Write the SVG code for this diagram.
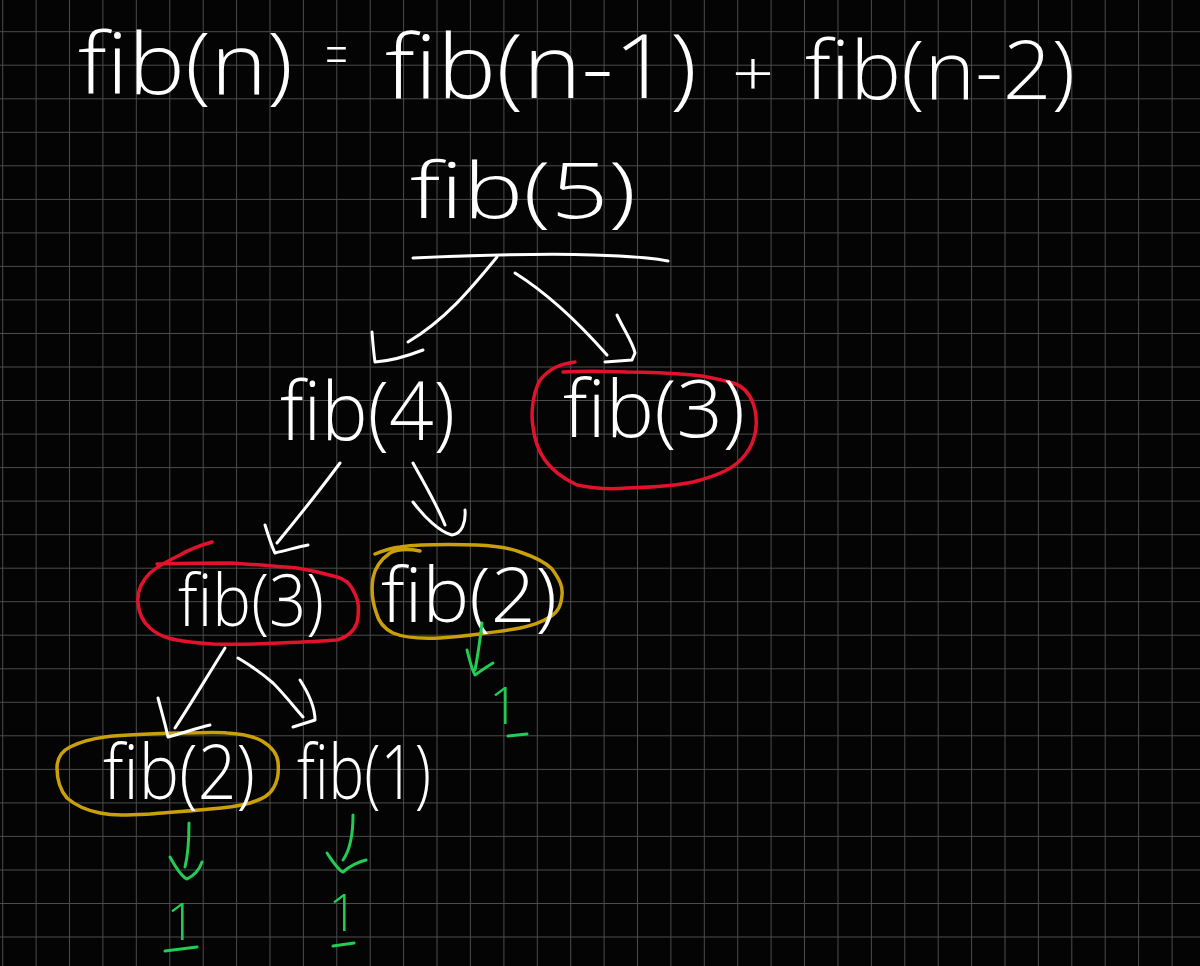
<svg xmlns="http://www.w3.org/2000/svg" width="1200" height="966" viewBox="0 0 1200 966">
<style>
.bg{fill:#040404}
.grid{stroke:#4c4c4c;stroke-width:1;fill:none}
.t{fill:#ffffff;font-family:"Open Sans","Liberation Sans",sans-serif;font-weight:300}
.g{fill:#22cc55;font-family:"Open Sans","Liberation Sans",sans-serif;font-weight:300}
.w{stroke:#ffffff;stroke-width:3;fill:none;stroke-linecap:round;stroke-linejoin:round}
.gr{stroke:#22cc55;stroke-width:3;fill:none;stroke-linecap:round;stroke-linejoin:round}
.red{stroke:#e3122c;stroke-width:3.5;fill:none;stroke-linecap:round;stroke-linejoin:round}
.yel{stroke:#c9a00a;stroke-width:3.5;fill:none;stroke-linecap:round;stroke-linejoin:round}
</style>
<rect class="bg" x="0" y="0" width="1200" height="966"/>
<path class="grid" d="M2.7,0V966M36.1,0V966M69.5,0V966M102.9,0V966M136.3,0V966M169.8,0V966M203.2,0V966M236.6,0V966M270,0V966M303.4,0V966M336.8,0V966M370.2,0V966M403.6,0V966M437,0V966M470.4,0V966M503.9,0V966M537.3,0V966M570.7,0V966M604.1,0V966M637.5,0V966M670.9,0V966M704.3,0V966M737.7,0V966M771.1,0V966M804.5,0V966M838,0V966M871.4,0V966M904.8,0V966M938.2,0V966M971.6,0V966M1005,0V966M1038.4,0V966M1071.8,0V966M1105.2,0V966M1138.6,0V966M1172.1,0V966M0,31.7H1200M0,65.2H1200M0,98.8H1200M0,132.3H1200M0,165.8H1200M0,199.4H1200M0,232.9H1200M0,266.4H1200M0,299.9H1200M0,333.5H1200M0,367H1200M0,400.5H1200M0,434.1H1200M0,467.6H1200M0,501.1H1200M0,534.7H1200M0,568.2H1200M0,601.7H1200M0,635.2H1200M0,668.8H1200M0,702.3H1200M0,735.8H1200M0,769.4H1200M0,802.9H1200M0,836.4H1200M0,870H1200M0,903.5H1200M0,937H1200"/>

<g id="equation">
<text class="t" x="78" y="94" font-size="84" textLength="215" lengthAdjust="spacingAndGlyphs">fib(n)</text>
<text class="t" x="325" y="76" font-size="60" textLength="23" lengthAdjust="spacingAndGlyphs">=</text>
<text class="t" x="385" y="98" font-size="88" textLength="312" lengthAdjust="spacingAndGlyphs">fib(n-1)</text>
<text class="t" x="732" y="96" font-size="62" textLength="42" lengthAdjust="spacingAndGlyphs">+</text>
<text class="t" x="805" y="99" font-size="82" textLength="270" lengthAdjust="spacingAndGlyphs">fib(n-2)</text>
</g>

<g id="node-fib5">
<text class="t" x="410" y="218" font-size="78" textLength="226" lengthAdjust="spacingAndGlyphs">fib(5)</text>
<path class="w" d="M413,258 C460,256 540,253 593,255 C625,256 650,257 668,261"/>
</g>

<g id="node-fib4">
<text class="t" x="280" y="440" font-size="82" textLength="175" lengthAdjust="spacingAndGlyphs">fib(4)</text>
</g>

<g id="node-fib3-right">
<path class="red" d="M575,362 C560,364 550,368 540,380 C532,395 531,415 533,427 C536,450 545,470 577,485 C600,490 615,489 627,488 C660,487 680,485 693,482 C720,475 735,468 745,455 C757,440 759,420 753,403 C748,390 740,385 733,383 C715,378 705,376 693,375 C670,373 645,372 627,372 C600,371 580,371 563,372"/>
<text class="t" x="563" y="437" font-size="80" textLength="182" lengthAdjust="spacingAndGlyphs">fib(3)</text>
</g>

<g id="node-fib3-left">
<path class="red" d="M212,542 C198,546 190,549 180,555 C165,562 157,567 150,573 C140,583 137,593 138,603 C139,615 143,622 150,628 C160,637 170,641 213,644 C240,645 260,644 280,643 C305,642 325,641 337,640 C350,636 357,628 358,617 C359,605 358,600 355,594 C350,583 345,579 337,577 C320,572 310,570 297,568 C270,566 250,564 230,563 C205,563 180,563 157,564"/>
<text class="t" x="178" y="626" font-size="72" textLength="146" lengthAdjust="spacingAndGlyphs">fib(3)</text>
</g>

<g id="node-fib2-right">
<path class="yel" d="M375,554 C385,550 390,548 400,547 C415,545 440,544 477,545 C500,546 512,549 520,552 C535,557 545,562 552,569 C560,580 563,587 562,595 C561,606 558,612 550,617 C540,623 533,625 520,628 C505,631 493,632 480,634 C465,636 455,637 440,638 C420,639 405,638 393,633 C383,628 378,620 376,612 C372,600 371,590 373,578 C375,567 380,560 390,553 C398,549 410,549 420,551"/>
<text class="t" x="381" y="622" font-size="75" textLength="176" lengthAdjust="spacingAndGlyphs">fib(2)</text>
</g>

<g id="node-fib2-left">
<path class="yel" d="M180,733 C200,733 215,732 227,733 C245,734 255,737 262,741 C272,747 277,753 278,762 C279,772 278,780 274,787 C270,795 263,799 250,803 C235,807 225,808 210,809 C190,811 175,812 150,814 C130,815 115,816 100,813 C85,810 75,805 67,798 C60,790 57,780 57,768 C57,758 62,751 70,747 C80,742 90,739 105,737 C120,735 140,734 180,733"/>
<text class="t" x="103" y="799" font-size="75" textLength="152" lengthAdjust="spacingAndGlyphs">fib(2)</text>
</g>

<g id="node-fib1">
<text class="t" x="297" y="799" font-size="75" textLength="134" lengthAdjust="spacingAndGlyphs">fib(1)</text>
</g>

<g id="result-1-right">
<text class="g" x="504" y="724" font-size="52" text-anchor="middle">1</text>
<path class="gr" d="M508,736 L527,734"/>
</g>
<g id="result-1-left">
<text class="g" x="181" y="940" font-size="52" text-anchor="middle">1</text>
<path class="gr" d="M165,951 L197,947"/>
</g>
<g id="result-1-mid">
<text class="g" x="343" y="931" font-size="52" text-anchor="middle">1</text>
<path class="gr" d="M333,946 L354,943"/>
</g>

<g id="connectors">
<path class="w" d="M497,257 C470,290 445,320 408,342"/>
<path class="w" d="M372,332 C373,345 374,355 375,362 C390,361 405,357 423,350"/>
<path class="w" d="M515,273 C550,295 585,330 607,355"/>
<path class="w" d="M617,315 C625,332 633,343 635,353 L632,360 L605,362"/>
<path class="w" d="M340,463 C320,490 300,515 277,543"/>
<path class="w" d="M265,525 C269,538 272,547 275,553 C288,550 298,547 308,545"/>
<path class="w" d="M413,463 C425,485 437,505 445,525"/>
<path class="w" d="M413,502 C425,518 440,532 452,535 C462,534 466,522 465,510"/>
<path class="w" d="M225,648 C205,680 190,705 175,728"/>
<path class="w" d="M158,698 C162,713 166,727 168,737 C183,733 197,728 210,725"/>
<path class="w" d="M238,658 C255,668 265,676 273,683 C285,695 295,708 303,717"/>
<path class="w" d="M300,680 C309,694 315,707 315,720 L293,727"/>
<path class="gr" d="M482,623 C480,640 478,655 475,670"/>
<path class="gr" d="M467,650 C470,662 472,670 475,675 C482,670 488,666 493,663"/>
<path class="gr" d="M189,823 C189,840 188,855 185,867"/>
<path class="gr" d="M170,857 C176,868 182,877 187,879 C195,875 200,868 202,862"/>
<path class="gr" d="M353,815 C353,835 350,850 343,860"/>
<path class="gr" d="M327,853 C333,862 338,870 343,872 C350,866 358,862 366,860"/>
</g>
</svg>
